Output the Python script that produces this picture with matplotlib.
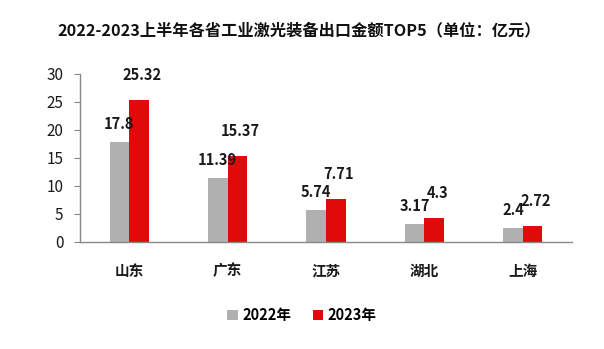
import matplotlib
matplotlib.use("Agg")
import matplotlib.pyplot as plt
import numpy as np

plt.rcParams["font.family"] = ["Noto Sans CJK SC", "DejaVu Sans"]

provinces = ["山东", "广东", "江苏", "湖北", "上海"]
years = ["2022年", "2023年"]
v2022 = [17.8, 11.39, 5.74, 3.17, 2.4]
v2023 = [25.32, 15.37, 7.71, 4.3, 2.72]

GRAY = "#b0b0b0"
RED = "#e00a0a"
PX = 72 / 100.0  # points per pixel at dpi=100

fig = plt.figure(figsize=(6.04, 3.49), dpi=100)
ax = fig.add_axes([0.1325, 0.3075, 0.8145, 0.4805])

x = np.arange(len(provinces))
w = 0.2
b1 = ax.bar(x - w / 2, v2022, w, color=GRAY, label=years[0])
b2 = ax.bar(x + w / 2, v2023, w, color=RED, label=years[1])

# value labels, bold, floating above the bars like the source
for bars, vals, dy, dx in ((b1, v2022, 18, 0), (b2, v2023, 25, 3)):
    for r, v in zip(bars, vals):
        ax.annotate(f"{v:g}", xy=(r.get_x() + r.get_width() / 2, v),
                    xytext=(dx * PX, dy * PX), textcoords="offset points",
                    ha="center", va="center", fontsize=10.5, fontweight="bold",
                    color="#1a1a1a")

ax.set_xlim(-0.5, len(provinces) - 0.5)
ax.set_ylim(0, 30)
ax.set_yticks(np.arange(0, 31, 5))
ax.set_xticks(x)
ax.set_xticklabels(provinces, fontsize=10.5, fontweight="bold")
ax.tick_params(axis="x", length=0, pad=15, colors="#1a1a1a")
ax.tick_params(axis="y", length=4, direction="out", color="#888888",
               labelsize=11, pad=8, labelcolor="#1a1a1a")
for s in ("top", "right"):
    ax.spines[s].set_visible(False)
for s in ("left", "bottom"):
    ax.spines[s].set_color("#888888")
    ax.spines[s].set_linewidth(1.0)

fig.text(0.495, 0.914, "2022-2023上半年各省工业激光装备出口金额TOP5（单位：亿元）",
         ha="center", va="center", fontsize=11.7, fontweight="bold", color="#111111")

fig.legend(handles=[b1, b2], labels=years, loc="center", bbox_to_anchor=(0.5, 0.097),
           ncol=2, frameon=False, handlelength=0.7, handleheight=0.7,
           handletextpad=0.3, columnspacing=1.5,
           prop={"size": 10.5, "weight": "bold"})

fig.savefig("out.png", dpi=100)
